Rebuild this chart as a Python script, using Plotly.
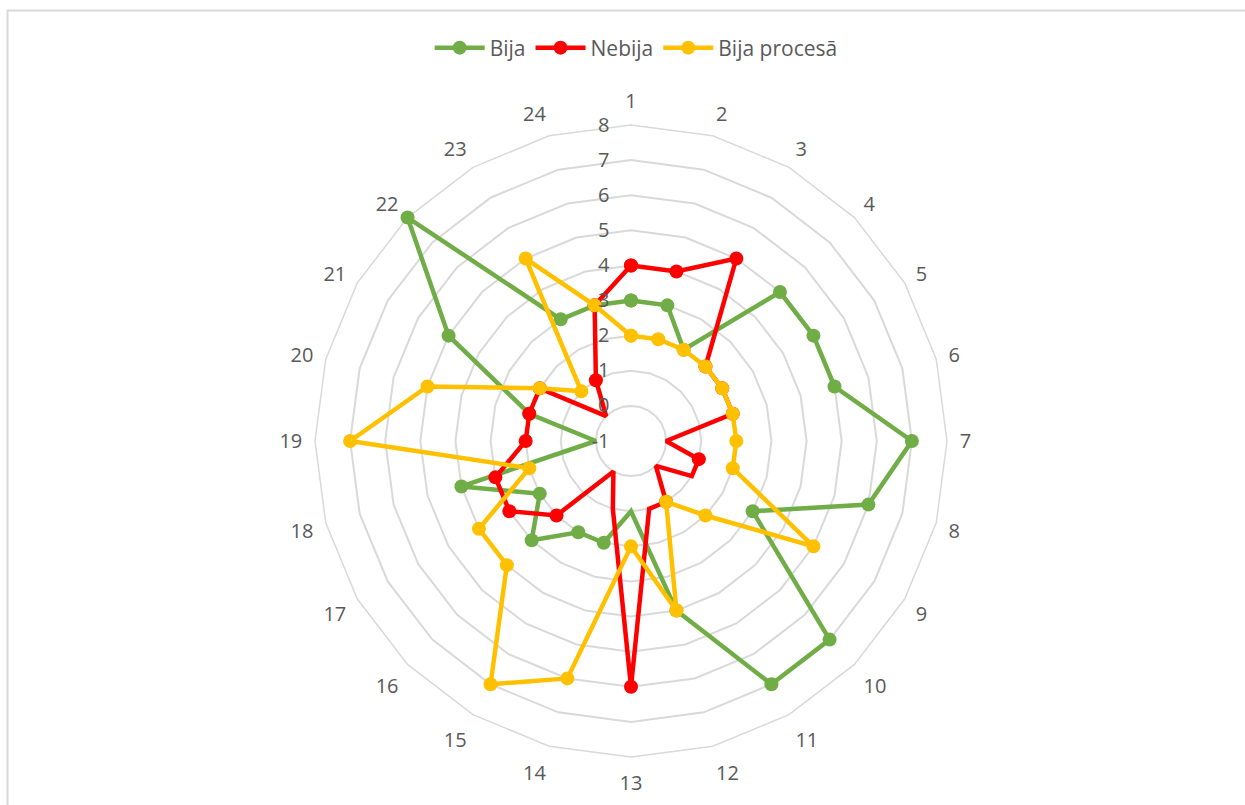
import plotly.graph_objects as go

categories = [str(i) for i in range(1, 25)]
bija = [3, 3, 2, 5, 5, 5, 7, 6, 3, 7, 7, 4, 1, 2, 2, 3, 2, 4, 0, 2, 5, 8, 3, 3]
nebija = [4, 4, 5, 2, 2, 2, 0, 1, 1, 0, 1, 1, 6, 1, 0, 2, 3, 3, 2, 2, 2, 0, 1, 3]
bija_procesa = [2, 2, 2, 2, 2, 2, 2, 2, 5, 2, 1, 4, 2, 6, 7, 4, 4, 2, 7, 5, 2, 1, 5, 3]
radial_ticks = list(range(-1, 9))

series = [
    ("Bija", bija, "#70AD47"),
    ("Nebija", nebija, "#FF0000"),
    ("Bija procesā", bija_procesa, "#FFC000"),
]

W, H = 1245, 805
cx, cy, R = 631, 441, 316

fig = go.Figure()
for name, vals, color in series:
    fig.add_trace(go.Scatterpolar(
        r=vals + vals[:1],
        theta=categories + categories[:1],
        name=name,
        mode="lines+markers",
        line=dict(color=color, width=4.5),
        marker=dict(color=color, size=14),
    ))

font = dict(family="'Open Sans', Lato, sans-serif", size=20, color="#595959")
legend_font = dict(family="'Open Sans', Lato, sans-serif", size=21, color="#595959")

fig.update_layout(
    width=W, height=H,
    margin=dict(l=0, r=0, t=0, b=0),
    paper_bgcolor="white",
    plot_bgcolor="white",
    font=font,
    showlegend=True,
    legend=dict(
        orientation="h",
        x=0.511, xanchor="center",
        y=1 - 48 / H, yanchor="middle",
        font=legend_font,
        itemwidth=50,
        bgcolor="rgba(0,0,0,0)",
    ),
    polar=dict(
        domain=dict(x=[(cx - R) / W, (cx + R) / W],
                    y=[(H - cy - R) / H, (H - cy + R) / H]),
        bgcolor="white",
        gridshape="linear",
        radialaxis=dict(
            range=[-1, 8],
            tickvals=radial_ticks,
            ticktext=[str(v) for v in radial_ticks],
            angle=90,
            side="counterclockwise",
            showline=False,
            ticks="outside",
            ticklen=14,
            tickcolor="rgba(0,0,0,0)",
            gridcolor="#D9D9D9",
            gridwidth=1.5,
            tickfont=font,
            tickangle=90,
            layer="above traces",
        ),
        angularaxis=dict(
            type="category",
            categoryarray=categories,
            rotation=90,
            direction="clockwise",
            showgrid=False,
            showline=True,
            linecolor="#D9D9D9",
            linewidth=1.5,
            ticks="outside",
            ticklen=8,
            tickcolor="rgba(0,0,0,0)",
            tickfont=font,
            layer="below traces",
        ),
    ),
    shapes=[dict(
        type="rect", xref="paper", yref="paper",
        x0=7.5 / W, x1=1.01, y0=-0.01, y1=1 - 10.5 / H,
        line=dict(color="#D9D9D9", width=2),
        fillcolor="rgba(0,0,0,0)",
        layer="below",
    )],
)

fig.write_html("out.html")
